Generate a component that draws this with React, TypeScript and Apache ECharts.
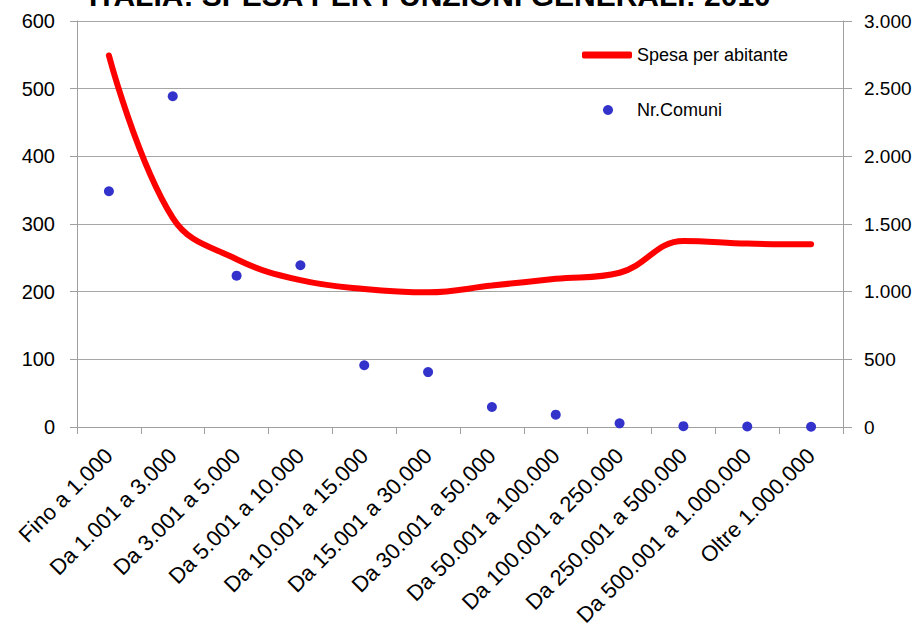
import React, { useEffect, useRef } from "react";
import * as echarts from "echarts";

const titleText = "ITALIA: SPESA PER FUNZIONI GENERALI: 2010";
const categories = [
  "Fino a 1.000",
  "Da 1.001 a 3.000",
  "Da 3.001 a 5.000",
  "Da 5.001 a 10.000",
  "Da 10.001 a 15.000",
  "Da 15.001 a 30.000",
  "Da 30.001 a 50.000",
  "Da 50.001 a 100.000",
  "Da 100.001 a 250.000",
  "Da 250.001 a 500.000",
  "Da 500.001 a 1.000.000",
  "Oltre 1.000.000",
];
const spesaPerAbitante = [549, 309, 248, 217, 204, 199, 209, 219, 228, 275, 271, 270];
const nrComuni = [1742, 2444, 1118, 1195, 456, 406, 148, 91, 27, 6, 4, 2];
const seriesNames = ["Spesa per abitante", "Nr.Comuni"];

const FONT = "'Liberation Sans', Arial, sans-serif";

function fmtThousands(v: number): string {
  const s = String(Math.round(v));
  return s.replace(/\B(?=(\d{3})+(?!\d))/g, ".");
}

export default function App() {
  const ref = useRef<HTMLDivElement>(null);
  useEffect(() => {
    document.body.style.margin = "0";
    if (!ref.current) return;
    const chart = echarts.init(ref.current, undefined, { renderer: "svg" });
    const legendText = { fontFamily: FONT, fontSize: 18, color: "#000" };
    chart.setOption({
      animation: false,
      backgroundColor: "#ffffff",
      title: {
        text: titleText,
        left: 84,
        top: -25,
        textStyle: { fontFamily: FONT, fontSize: 30, fontWeight: "bold", color: "#000" },
      },
      legend: [
        {
          left: 577,
          top: 41,
          itemWidth: 50,
          itemHeight: 7,
          textStyle: legendText,
          data: [{ name: seriesNames[0], icon: "roundRect", itemStyle: { color: "#ff0000" } }],
        },
        {
          left: 598,
          top: 96,
          itemWidth: 10,
          itemHeight: 10,
          textStyle: { ...legendText, padding: [0, 0, 0, 19] },
          data: [{ name: seriesNames[1], icon: "circle", itemStyle: { color: "#3333cc" } }],
        },
      ],
      grid: { left: 77, right: 77, top: 21, bottom: 205, containLabel: false },
      xAxis: {
        type: "category",
        data: categories,
        boundaryGap: true,
        axisLine: { show: true, lineStyle: { color: "#a0a0a0", width: 1 } },
        axisTick: { show: true, length: 7, alignWithLabel: false, lineStyle: { color: "#a0a0a0" } },
        axisLabel: {
          interval: 0,
          rotate: 45,
          margin: 25,
          fontFamily: FONT,
          fontSize: 22,
          color: "#000",
        },
        splitLine: { show: false },
      },
      yAxis: [
        {
          type: "value",
          min: 0,
          max: 600,
          interval: 100,
          axisLine: { show: true, lineStyle: { color: "#a0a0a0" } },
          axisTick: { show: true, length: 7, lineStyle: { color: "#a0a0a0" } },
          axisLabel: { fontFamily: FONT, fontSize: 20, color: "#000", margin: 22 },
          splitLine: { show: true, lineStyle: { color: "#a6a6a6", width: 1 } },
        },
        {
          type: "value",
          min: 0,
          max: 3000,
          interval: 500,
          position: "right",
          axisLine: { show: true, lineStyle: { color: "#a0a0a0" } },
          axisTick: { show: true, length: 9, lineStyle: { color: "#a0a0a0" } },
          axisLabel: {
            fontFamily: FONT,
            fontSize: 19,
            color: "#000",
            margin: 21,
            formatter: (v: number) => fmtThousands(v),
          },
          splitLine: { show: false },
        },
      ],
      series: [
        {
          name: seriesNames[0],
          type: "line",
          yAxisIndex: 0,
          data: spesaPerAbitante,
          smooth: 0.4,
          symbol: "none",
          lineStyle: { color: "#ff0000", width: 6, cap: "round" },
          itemStyle: { color: "#ff0000" },
          z: 2,
        },
        {
          name: seriesNames[1],
          type: "scatter",
          yAxisIndex: 1,
          data: nrComuni,
          symbol: "circle",
          symbolSize: 10,
          itemStyle: { color: "#3333cc", opacity: 1 },
          z: 3,
        },
      ],
    });
    return () => chart.dispose();
  }, []);
  return <div ref={ref} style={{ width: 920, height: 632 }} />;
}
